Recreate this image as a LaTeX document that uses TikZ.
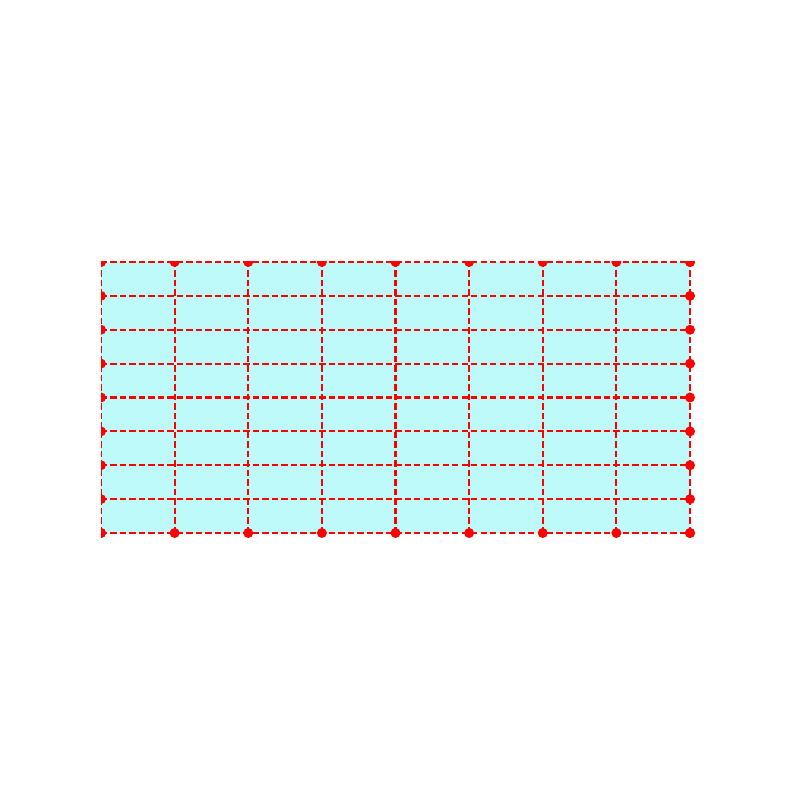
\documentclass[tikz,border=0pt]{standalone}
\usetikzlibrary{calc}
\definecolor{cellcyan}{RGB}{190,250,250}
\tikzset{
    cell/.style={fill=cellcyan},
    gridline/.style={red, dash pattern=on 1.8pt off 0.9pt, line width=0.6pt},
    vertex/.style={red}
}

\begin{document}
\begin{tikzpicture}
\useasboundingbox (0,0) rectangle (8,8);
\begin{scope}[shift={(1.01,2.67)}, x=0.73625cm, y=0.33875cm]
\fill[cell] (0,0) rectangle (8,8);
\clip (0,-1) rectangle (9,8);
\foreach \i in {0,...,8} {
    \draw[gridline] (\i,0) -- (\i,8);
    \draw[gridline] (0,\i) -- (8,\i);
}
\foreach \i in {0,...,8} {
    \fill[vertex] (\i,0) circle[radius=0.05cm];
    \fill[vertex] (\i,8) circle[radius=0.05cm];
    \fill[vertex] (0,\i) circle[radius=0.05cm];
    \fill[vertex] (8,\i) circle[radius=0.05cm];
}
\end{scope}
\end{tikzpicture}
\end{document}
